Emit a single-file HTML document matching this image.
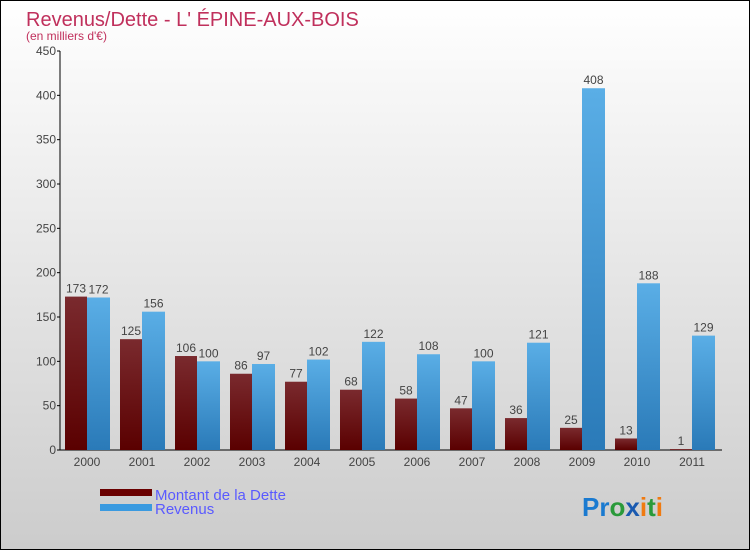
<!DOCTYPE html>
<html><head><meta charset="utf-8"><style>
body{margin:0}
svg text{font-family:"Liberation Sans",sans-serif}
</style></head><body>
<svg width="750" height="550" xmlns="http://www.w3.org/2000/svg">
<defs>
<linearGradient id="bg" x1="0" y1="0" x2="0" y2="1"><stop offset="0" stop-color="#ffffff"/><stop offset="1" stop-color="#cccccc"/></linearGradient>
<linearGradient id="gd" x1="0" y1="0" x2="0" y2="1"><stop offset="0" stop-color="#7a2a2e"/><stop offset="1" stop-color="#5a0000"/></linearGradient>
<linearGradient id="gr" x1="0" y1="0" x2="0" y2="1"><stop offset="0" stop-color="#5aaee6"/><stop offset="1" stop-color="#2a7ab8"/></linearGradient>
</defs>
<rect x="0.5" y="0.5" width="749" height="549" fill="url(#bg)" stroke="#000"/>
<text x="26" y="26" font-size="20" fill="#c0305c">Revenus/Dette - L' ÉPINE-AUX-BOIS</text>
<text x="26" y="40" font-size="12" fill="#c0305c">(en milliers d'€)</text>
<g id="axes"></g><g id="bars"></g>
<rect x="100" y="489" width="52" height="7" fill="#6a0000"/>
<rect x="100" y="504" width="52" height="7" fill="#3a9ae0"/>
<text x="155" y="500" font-size="15" fill="#5a5aff">Montant de la Dette</text>
<text x="155" y="514" font-size="15" fill="#5a5aff">Revenus</text>
<text x="582" y="516" font-size="26" font-weight="bold" fill="#1a7ad0">Pr<tspan fill="#2a9a3a">o</tspan><tspan fill="#1a5ab0">x</tspan><tspan fill="#f07a10">i</tspan><tspan fill="#2a9a3a">t</tspan><tspan fill="#f07a10">i</tspan></text>
</svg>
<script>
const years=["2000","2001","2002","2003","2004","2005","2006","2007","2008","2009","2010","2011"];
const dette=[173,125,106,86,77,68,58,47,36,25,13,1];
const revenus=[172,156,100,97,102,122,108,100,121,408,188,129];
const ticks=[0,50,100,150,200,250,300,350,400,450];
const NS="http://www.w3.org/2000/svg";
const y=v=>450-v*399/450;
const xc=i=>87+i*55;
function mk(tag,attrs,parent,txt){const e=document.createElementNS(NS,tag);for(const k in attrs)e.setAttribute(k,attrs[k]);if(txt!==undefined)e.textContent=txt;parent.appendChild(e);return e;}
const ax=document.getElementById('axes'),bg=document.getElementById('bars');
let l=mk('line',{x1:60,y1:y(450),x2:60,y2:450,stroke:'#000'},ax);


l=mk('line',{x1:60,y1:450,x2:722,y2:450,stroke:'#000'},ax);


ticks.forEach(t=>{
 const tk=mk('line',{x1:57,y1:y(t),x2:60,y2:y(t),stroke:'#000'},ax);
 
 
 const tx=mk('text',{x:56,y:y(t)+4,'font-size':12,'text-anchor':'end',fill:'#444'},ax,t);
 
 
});
years.forEach((yr,i)=>{
 const c=xc(i);
 const t=mk('text',{x:c,y:466,'font-size':12,'text-anchor':'middle',fill:'#444'},ax,yr);
 
 
 const d=mk('rect',{x:c-22,y:y(dette[i]),width:22,height:450-y(dette[i]),fill:'url(#gd)'},bg);
 
 
 const r=mk('rect',{x:c,y:y(revenus[i]),width:23,height:450-y(revenus[i]),fill:'url(#gr)'},bg);
 
 
 const dl=mk('text',{x:c-11,y:y(dette[i])-4,'font-size':12,'text-anchor':'middle',fill:'#444'},bg,dette[i]);
 
 
 const rl=mk('text',{x:c+11.5,y:y(revenus[i])-4,'font-size':12,'text-anchor':'middle',fill:'#444'},bg,revenus[i]);
 
 
});
</script>
</body></html>
